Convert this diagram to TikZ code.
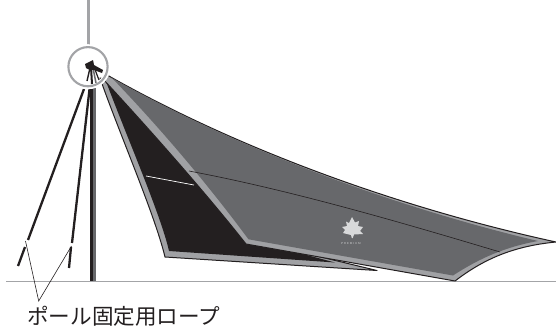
\documentclass[tikz,border=0pt]{standalone}
\usepackage{fontspec}
\newfontfamily\cjk{Noto Sans CJK JP}
\definecolor{sheet}{HTML}{67686B}
\definecolor{hem}{HTML}{A0A1A4}
\definecolor{ink}{HTML}{231F20}
\definecolor{leader}{HTML}{A3A4A7}
\definecolor{logo}{HTML}{D8D9DA}
\tikzset{
  edge/.style={draw=ink,line width=1pt,line join=round},
  rope/.style={draw=ink,line width=2.3pt},
  callout/.style={draw=ink,line width=.6pt},
}
\begin{document}
\begin{tikzpicture}[x=1pt,y=-1pt]
\useasboundingbox (0,0) rectangle (556,327);
% ground
\draw[leader,line width=1.2pt] (6,281.7) -- (556,281.7);
% callout leader
\draw[leader,line width=3pt] (88,0) -- (88,47);
% ropes
\draw[rope] (84,89) -- (28,240);
\draw[rope] (25,247) -- (18,266);
\draw[rope] (90,85) -- (72,243);
\draw[rope] (71,247) -- (69,268);
% pole
\fill[ink] (90.4,85) rectangle (96.2,281);
\fill[sheet] (92.6,85) rectangle (95.6,281);
% back (black) panel
\path[edge,fill=hem] (100,78) .. controls (118,130) and (155,215) .. (165,257)
  -- (377,270.5) -- (250,240) -- (108,80) -- cycle;
\fill[ink] (105.5,80) .. controls (124,130) and (161,215) .. (169,251)
  -- (335,262.5) -- (250,240) -- (112,80) -- cycle;
% white seam
\draw[white,line width=.7pt] (146,176) -- (194,185);
% main sheet
\path[edge,fill=hem] (108,75.5) .. controls (240,150) and (400,208) .. (556,242)
  .. controls (515,246) and (485,258) .. (455,281)
  -- (246,244) .. controls (205,192) and (150,130) .. (103,79) -- cycle;
\fill[sheet] (110,77) .. controls (240,150.5) and (400,208.5) .. (538,241)
  .. controls (505,247) and (480,258) .. (453,275.5)
  -- (248.5,239.3) .. controls (212,190) and (165,133) .. (112,78) -- cycle;
\draw[edge,line width=.6pt] (189,171) .. controls (290,190) and (400,222) .. (500,252);
% logo
\fill[logo] (352,217) -- (355,222.5) -- (359,221) -- (358,226) -- (363,227)
  -- (360,231) -- (363,234) -- (354,234.5) -- (352.8,238) -- (351.8,238) -- (351,235) -- (343,233)
  -- (345,230) -- (342,227) -- (347,226) -- (346,221.5) -- (349,223) -- cycle;
\node[font=\sffamily\fontsize{2.8}{3}\selectfont,text=logo,inner sep=0pt] (brand) at (351,243.5) {P R E M I U M};
% white halo and ring
\draw[white,line width=5pt] (88,66.7) circle (20);
\draw[ink,line width=1.4pt] (90,68) -- (87,81);
\draw[ink,line width=2pt] (91,67) -- (92,84);
\draw[sheet,line width=1.5pt] (93,68) -- (96,83);
\draw[ink,line width=1.2pt] (94,67) -- (99,80);
\fill[ink] (85,64) -- (89,62) -- (93,60) -- (94,65) -- (103,70) -- (102,73) -- (94,70) -- (90,70) -- (86,68) -- cycle;
\draw[leader,line width=2.1pt] (88,66.7) circle (19.6);
% callouts
\coordinate (tip) at (38.7,301);
\coordinate (ropeA) at (25.5,241);
\coordinate (ropeB) at (71.5,246);
\draw[callout] (ropeA) -- (tip) -- (ropeB);
% label
\node[font=\cjk\fontsize{21.6}{21.6}\selectfont,text=ink,anchor=west,inner sep=0pt] (label) at (27,316.5) {ポール固定用ロープ};
\end{tikzpicture}
\end{document}
